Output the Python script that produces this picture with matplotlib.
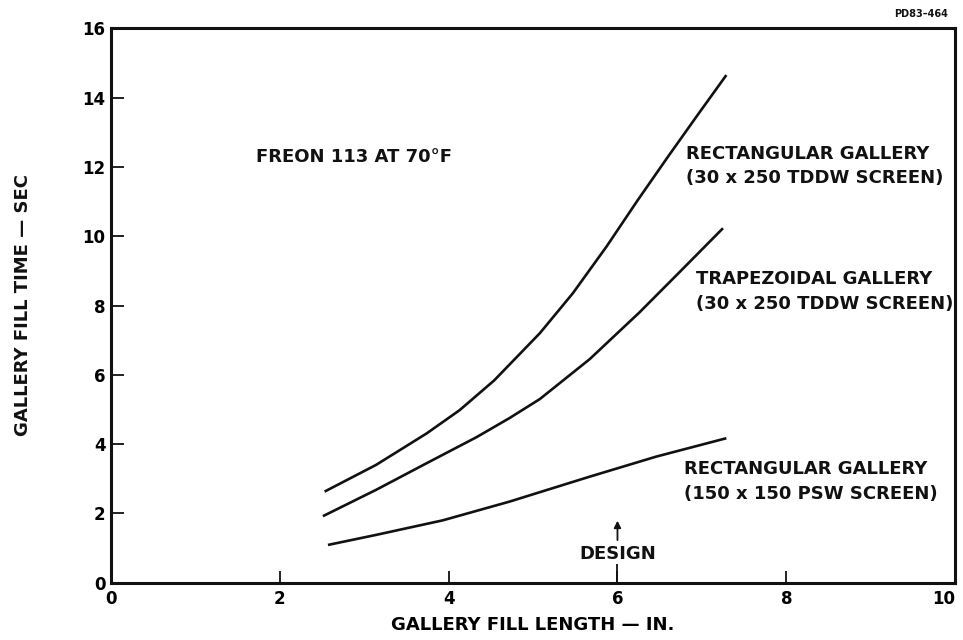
import matplotlib
matplotlib.use("Agg")
import matplotlib.pyplot as plt

# curve data (x = fill length in., y = fill time sec)
rect_tddw_x = [2.53, 3.14, 3.74, 4.13, 4.54, 5.08, 5.47, 5.87, 6.24, 6.60, 6.95, 7.29]
rect_tddw_y = [2.63, 3.40, 4.31, 4.98, 5.84, 7.20, 8.35, 9.70, 11.04, 12.30, 13.50, 14.65]

trap_tddw_x = [2.51, 3.14, 3.74, 4.33, 4.72, 5.08, 5.67, 6.26, 6.73, 7.25]
trap_tddw_y = [1.92, 2.68, 3.45, 4.20, 4.75, 5.30, 6.45, 7.80, 8.95, 10.23]

rect_psw_x = [2.57, 3.14, 3.93, 4.72, 5.67, 6.46, 7.29]
rect_psw_y = [1.09, 1.38, 1.80, 2.34, 3.06, 3.64, 4.17]

x_ticks = [0, 2, 4, 6, 8, 10]
y_ticks = [0, 2, 4, 6, 8, 10, 12, 14, 16]

curve_labels = [
    "RECTANGULAR GALLERY\n(30 x 250 TDDW SCREEN)",
    "TRAPEZOIDAL GALLERY\n(30 x 250 TDDW SCREEN)",
    "RECTANGULAR GALLERY\n(150 x 150 PSW SCREEN)",
]

plt.rcParams['font.family'] = ['DejaVu Sans']
plt.rcParams['font.weight'] = 'bold'
ink = '#111111'

fig = plt.figure(figsize=(9.63, 6.4), dpi=100)
ax = fig.add_axes([0.1153, 0.0895, 0.8765, 0.8663])

for xs, ys in [(rect_tddw_x, rect_tddw_y), (trap_tddw_x, trap_tddw_y), (rect_psw_x, rect_psw_y)]:
    ax.plot(xs, ys, color=ink, linewidth=1.9, solid_capstyle='butt', solid_joinstyle='round')

ax.set_xlim(0, 10)
ax.set_ylim(0, 16)
ax.set_xticks(x_ticks)
ax.set_yticks(y_ticks)
ax.set_xticklabels([str(t) for t in x_ticks], fontsize=12, fontweight='bold')
ax.set_yticklabels([str(t) for t in y_ticks], fontsize=12, fontweight='bold')
ax.get_xticklabels()[-1].set_horizontalalignment('right')
ax.tick_params(axis='both', direction='in', length=9, width=1.3, color=ink)
ax.tick_params(axis='x', pad=5)
ax.tick_params(axis='y', pad=4)

for s in ax.spines.values():
    s.set_linewidth(2.2)
    s.set_color(ink)

ax.set_xlabel("GALLERY FILL LENGTH \u2014 IN.", fontsize=13, fontweight='bold', labelpad=6)
fig.text(23 / 963, 1 - 305 / 640, "GALLERY FILL TIME \u2014 SEC", fontsize=13,
         fontweight='bold', rotation=90, ha='center', va='center', color=ink)

ax.text(1.72, 12.29, "FREON 113 AT 70\u00b0F", fontsize=13, fontweight='bold',
        ha='left', va='center', color=ink)

label_pos = [(6.81, 12.03), (6.93, 8.40), (6.79, 2.92)]
for (lx, ly), txt in zip(label_pos, curve_labels):
    ax.text(lx, ly, txt, fontsize=13, fontweight='bold', ha='left', va='center',
            linespacing=1.45, color=ink)

# design point marker
ax.annotate("", xy=(6, 1.87), xytext=(6, 1.15),
            arrowprops=dict(arrowstyle='-|>', color=ink, lw=1.3, mutation_scale=10))
ax.text(6, 0.83, "DESIGN", fontsize=13, fontweight='bold', ha='center', va='center', color=ink)
ax.vlines(6, 0, 0.55, color=ink, linewidth=1.3)

fig.text(948 / 963, 1 - 14 / 640, "PD83\u2013464", fontsize=7, fontweight='bold',
         ha='right', va='center', color=ink)

plt.savefig('out.png', dpi=100)
